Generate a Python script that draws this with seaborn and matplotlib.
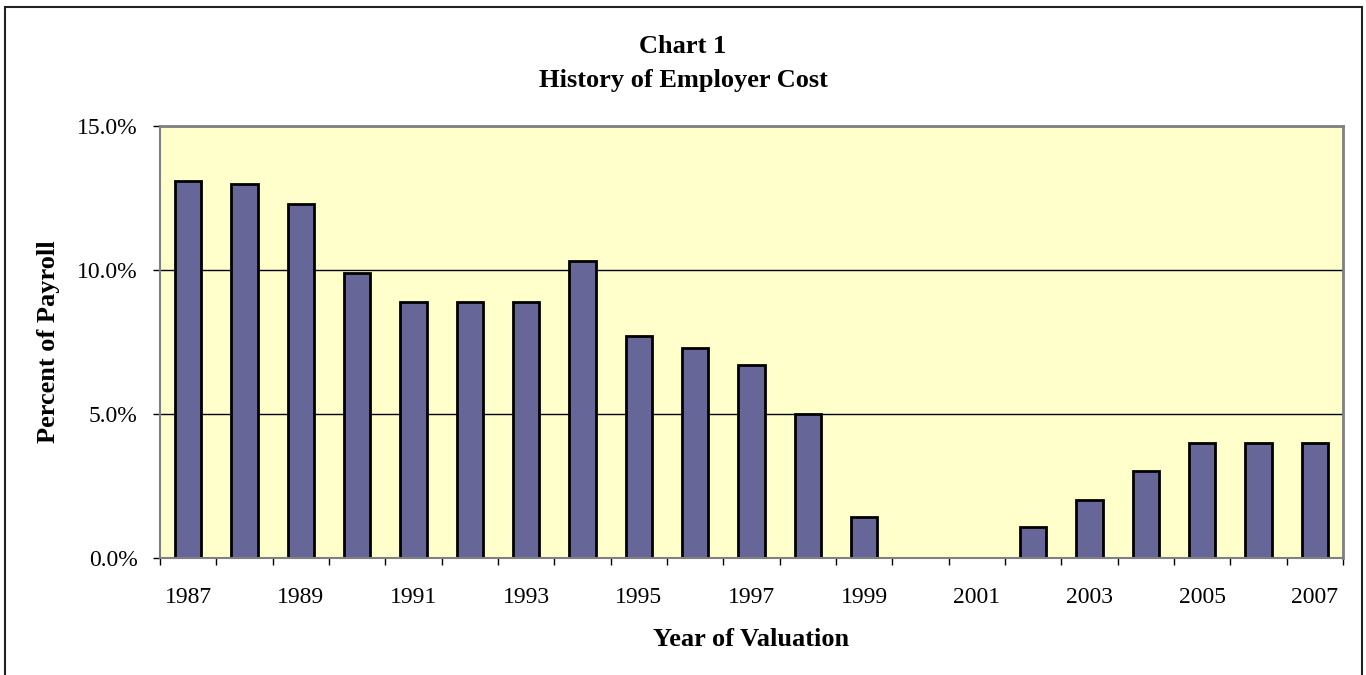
import numpy as np
import pandas as pd
import matplotlib
matplotlib.use("Agg")
import matplotlib.pyplot as plt
import matplotlib.patches as mpatches
from matplotlib.ticker import FixedLocator, PercentFormatter
import seaborn as sns

# --- Data ---
years = [str(y) for y in range(1987, 2008)]
employer_cost = [13.1, 13.0, 12.3, 9.9, 8.9, 8.9, 8.9, 10.3, 7.7, 7.3, 6.7,
                 5.0, 1.4, 0.0, 0.0, 1.05, 2.0, 3.0, 4.0, 4.0, 4.0]
y_ticks = [0, 5, 10, 15]
labelled_years = years[::2]

BAR_COLOR = '#666699'
PLOT_BG = '#FFFFCC'
SPINE_GRAY = '#808080'

df = pd.DataFrame({'year': years, 'cost': employer_cost})

sns.set_theme(style="white")
plt.rcParams['font.family'] = ['Liberation Serif', 'DejaVu Serif']
plt.rcParams.update({'text.color': 'black', 'axes.labelcolor': 'black',
                     'xtick.color': 'black', 'ytick.color': 'black'})

fig = plt.figure(figsize=(13.66, 6.75), dpi=100)
ax = fig.add_axes([0.1171, 0.1738, 0.9832 - 0.1171, 0.8133 - 0.1738])
ax.set_facecolor(PLOT_BG)

sns.barplot(x='year', y='cost', data=df, color=BAR_COLOR, edgecolor='black',
            linewidth=2, width=0.47, saturation=1, ax=ax)

# y axis
ax.set_ylim(0, 15)
ax.set_yticks(y_ticks)
ax.yaxis.set_major_formatter(PercentFormatter(decimals=1))
ax.yaxis.grid(True, color='black', linewidth=1)
ax.set_axisbelow(True)
ax.tick_params(axis='y', direction='out', length=5, width=1,
               pad=11, labelsize=17, left=True)

# x axis: ticks between categories, labels on every other year
ax.set_xlim(-0.5, len(years) - 0.5)
ax.xaxis.set_major_locator(FixedLocator(np.arange(-0.5, len(years), 1.0)))
ax.xaxis.set_minor_locator(FixedLocator(np.arange(0, len(years), 2)))
ax.set_xticklabels([], minor=False)
ax.set_xticklabels(labelled_years, minor=True)
ax.tick_params(axis='x', which='major', direction='out', length=5, width=1,
               bottom=True)
ax.tick_params(axis='x', which='minor', length=0, pad=21, labelsize=17)

for side in ['top', 'right', 'left', 'bottom']:
    ax.spines[side].set_color(SPINE_GRAY)
    ax.spines[side].set_linewidth(1.5)
    ax.spines[side].set_zorder(3)
ax.spines['top'].set_linewidth(2)
ax.spines['right'].set_linewidth(2)

# axis labels
ax.set_xlabel('Year of Valuation', fontweight='bold', fontsize=19)
ax.set_ylabel('Percent of Payroll', fontweight='bold', fontsize=19)
ax.xaxis.set_label_coords(0.5, -0.19)
ax.xaxis.label.set_va('center')
ax.yaxis.set_label_coords(-0.094, 0.5)
ax.yaxis.label.set_va('center')

# two-line title, centred on the whole chart
fig.text(0.5, 1 - 53 / 675, 'Chart 1', ha='center', va='baseline',
         fontweight='bold', fontsize=19)
fig.text(0.5, 1 - 87 / 675, 'History of Employer Cost', ha='center',
         va='baseline', fontweight='bold', fontsize=19)

# outer chart border
border = mpatches.Rectangle((5 / 1366, -0.05), (1362 - 5) / 1366, 1.05 - 7 / 675,
                            transform=fig.transFigure, fill=False,
                            edgecolor='#222222', linewidth=1.5, clip_on=False)
fig.patches.append(border)

fig.savefig('out.png', dpi=100, facecolor='white')
plt.close(fig)
